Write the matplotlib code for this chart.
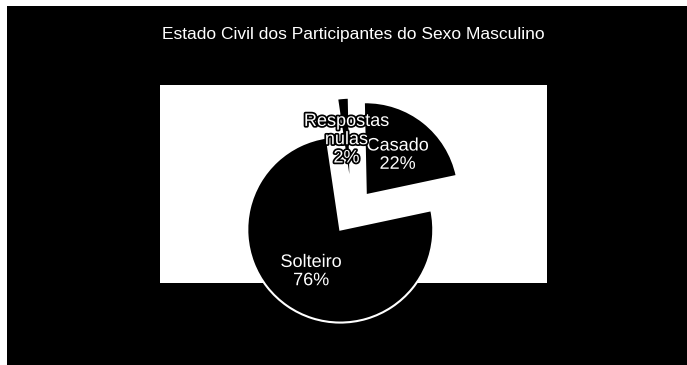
import matplotlib.pyplot as plt
import matplotlib.patheffects as pe
from matplotlib.patches import Rectangle

# data
categories = ["Casado", "Respostas\nnulas", "Solteiro"]
percentages = [22, 2, 76]
title = "Estado Civil dos Participantes do Sexo Masculino"

W, H = 687, 365
fig = plt.figure(figsize=(W / 100, H / 100), dpi=100, facecolor="white")

# black slide background, thin white scan margin on left/top
fig.patches.append(Rectangle((7 / W, 0), 1 - 7 / W, 1 - 6 / H,
                             transform=fig.transFigure, facecolor="black",
                             edgecolor="none", zorder=-10))

fig.text(353 / W, 1 - 35 / H, title, color="white", fontsize=12.5,
         family="Liberation Sans", ha="center", va="center")

# white plot area, coordinates in pixels (y flipped)
x0, x1, ytop, ybot = 160, 547, 85, 283
ax = fig.add_axes([x0 / W, 1 - ybot / H, (x1 - x0) / W, (ybot - ytop) / H])

r = 93
labels = [f"{c}\n{p}%" for c, p in zip(categories, percentages)]
wedges, texts = ax.pie(
    percentages, labels=labels, startangle=12, counterclock=True,
    center=(352.5, H - 212), radius=r, explode=[0.23 * r] * 3,
    colors=["black"] * 3, labeldistance=0.55, frame=True,
    wedgeprops=dict(edgecolor="white", linewidth=1.5),
    textprops=dict(color="white", fontsize=13, family="Liberation Sans",
                   linespacing=1.1))
for w in wedges:
    w.set_clip_on(False)
for t in texts:
    t.set_ha("center")
    t.set_va("center")
    t.set_clip_on(False)
    t.set_path_effects([pe.withStroke(linewidth=2.5, foreground="black")])

ax.set_facecolor("white")
ax.set_xlim(x0, x1)
ax.set_ylim(H - ybot, H - ytop)
ax.set_aspect("equal")
ax.set_xticks([])
ax.set_yticks([])
for s in ax.spines.values():
    s.set_visible(False)

fig.savefig("out.png", dpi=100, facecolor=fig.get_facecolor())
